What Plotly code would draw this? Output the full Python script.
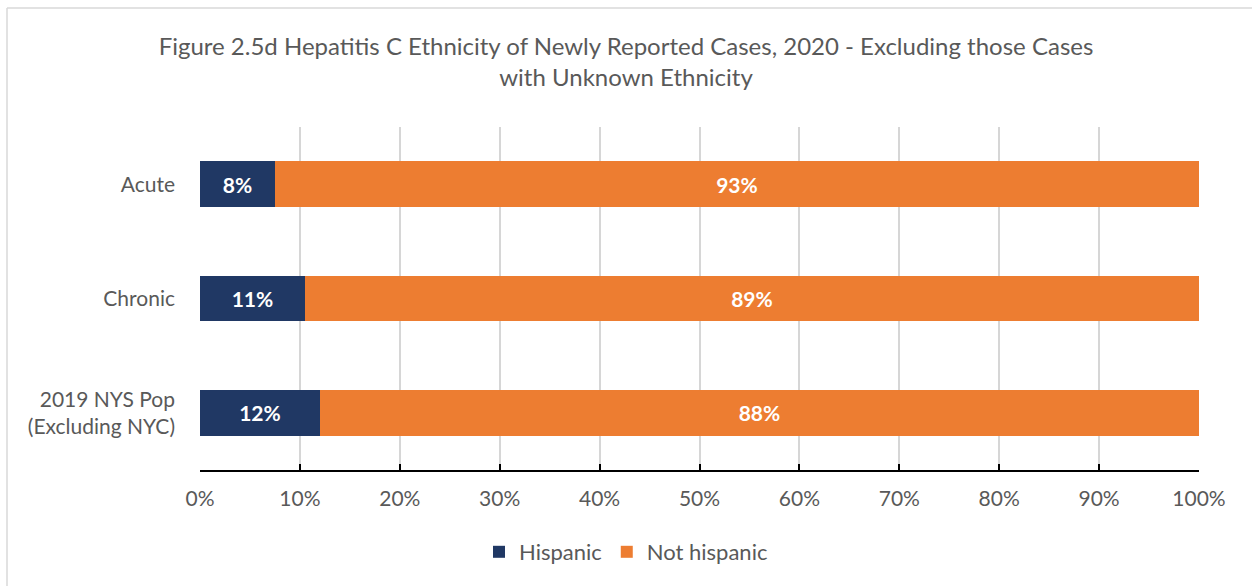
import plotly.graph_objects as go

categories = ["Acute", "Chronic", "2019 NYS Pop<br>(Excluding NYC)"]
hispanic = [7.5, 10.5, 12.0]
not_hispanic = [92.5, 89.5, 88.0]
hispanic_labels = ["8%", "11%", "12%"]
not_hispanic_labels = ["93%", "89%", "88%"]
tick_vals = [0, 10, 20, 30, 40, 50, 60, 70, 80, 90, 100]
tick_text = ["0%", "10%", "20%", "30%", "40%", "50%", "60%", "70%", "80%", "90%", "100%"]

FONT = "Lato"
GRAY = "#595959"

fig = go.Figure()
fig.add_trace(go.Bar(
    y=categories, x=hispanic, name="Hispanic", orientation="h",
    marker=dict(color="#203864", line=dict(width=0)),
    text=hispanic_labels, textposition="inside", insidetextanchor="middle",
    textfont=dict(family=FONT, size=21, color="white", weight="bold"),
    hoverinfo="skip",
))
fig.add_trace(go.Bar(
    y=categories, x=not_hispanic, name="Not hispanic", orientation="h",
    marker=dict(color="#ED7D31", line=dict(width=0)),
    text=not_hispanic_labels, textposition="inside", insidetextanchor="middle",
    textfont=dict(family=FONT, size=21, color="white", weight="bold"),
    hoverinfo="skip",
))

fig.update_layout(
    width=1252, height=586,
    barmode="stack", bargap=0.6,
    paper_bgcolor="white", plot_bgcolor="white",
    margin=dict(l=200, r=53, t=127, b=116),
    font=dict(family=FONT, color=GRAY, size=21),
    title=dict(
        text="Figure 2.5d Hepatitis C Ethnicity of Newly Reported Cases, 2020 - Excluding those Cases<br>with Unknown Ethnicity",
        x=0.5, xref="container", xanchor="center",
        y=1 - 55 / 586, yref="container", yanchor="middle",
        font=dict(family=FONT, size=24, color=GRAY),
    ),
    xaxis=dict(
        range=[0, 100], tickvals=tick_vals, ticktext=tick_text,
        showgrid=True, gridcolor="#D6D6D6", gridwidth=1.5,
        zeroline=False,
        showline=True, linecolor="black", linewidth=2,
        ticks="inside", ticklen=6, tickcolor="black", tickwidth=1.5,
        ticklabelstandoff=9,
        tickfont=dict(family=FONT, size=21, color=GRAY),
        fixedrange=True,
    ),
    yaxis=dict(
        autorange="reversed", showgrid=False, showline=False, zeroline=False,
        ticks="", ticklabelstandoff=24,
        tickfont=dict(family=FONT, size=21, color=GRAY),
        fixedrange=True,
    ),
    legend=dict(
        orientation="h", x=0.5, xref="container", xanchor="center",
        y=1 - 552 / 586, yref="container", yanchor="middle",
        font=dict(family=FONT, size=22, color=GRAY),
        traceorder="normal",
    ),
    shapes=[
        dict(type="line", xref="paper", yref="paper",
             x0=(7 - 200) / 999, x1=(7 - 200) / 999,
             y0=1 + (127 - 8) / 343, y1=-(600 - 470) / 343,
             line=dict(color="#D9D9D9", width=1.5)),
        dict(type="line", xref="paper", yref="paper",
             x0=(7 - 200) / 999, x1=(1260 - 200) / 999,
             y0=1 + (127 - 8) / 343, y1=1 + (127 - 8) / 343,
             line=dict(color="#D9D9D9", width=1.5)),
    ],
)

fig.write_html("out.html")
